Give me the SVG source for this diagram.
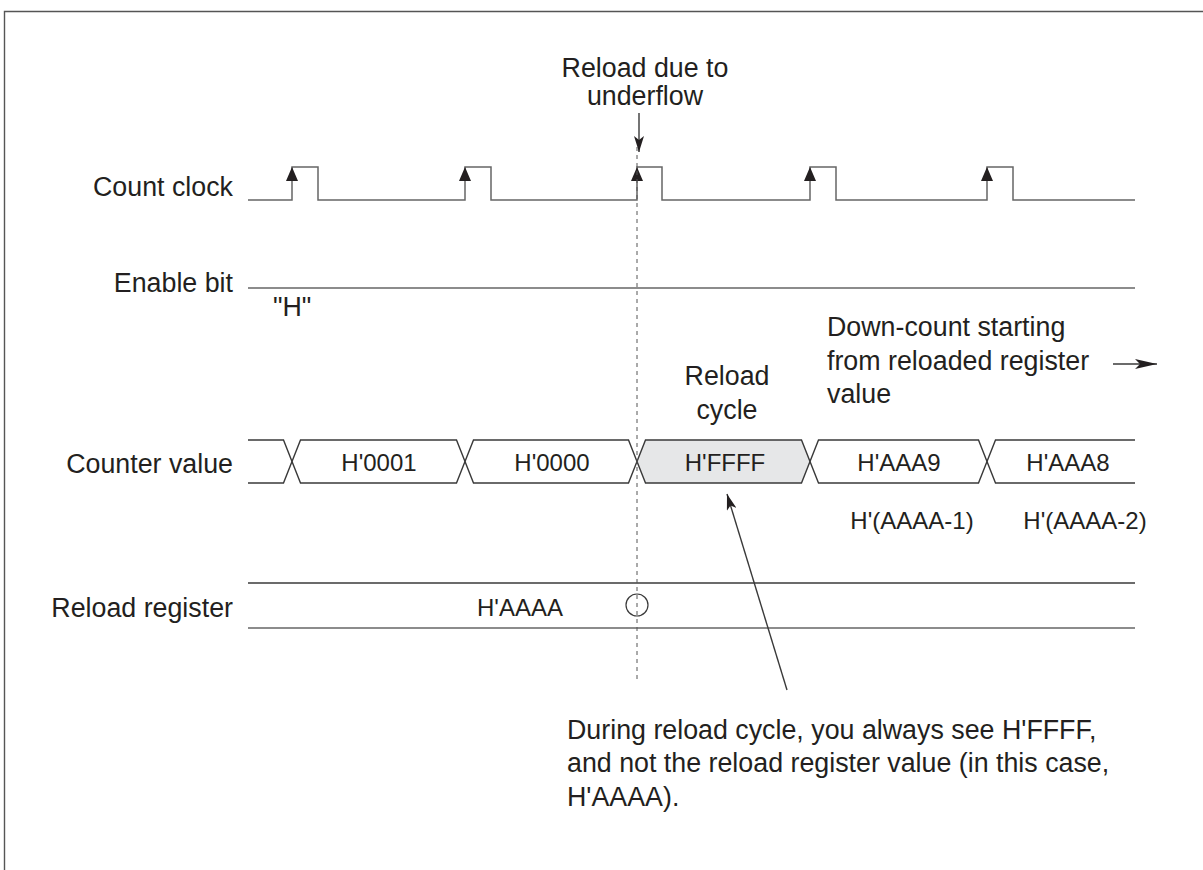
<svg xmlns="http://www.w3.org/2000/svg" width="1203" height="870" viewBox="0 0 1203 870">
<defs>
<style>
.t{font-family:"Liberation Sans",Arial,sans-serif;font-size:26.8px;fill:#231f20}
.v{font-size:24px}
.m{text-anchor:middle}
.e{text-anchor:end}
.ln{stroke:#3a3a3a;stroke-width:1.4;fill:none}
.gl{stroke:#666;stroke-width:1.5;fill:none}
</style>
<marker id="ah2" viewBox="0 0 16 10" refX="16" refY="5" markerWidth="16" markerHeight="10" markerUnits="userSpaceOnUse" orient="auto"><path d="M0,0 L16,5 L0,10 L4,5 Z" fill="#231f20"/></marker>
<marker id="ah3" viewBox="0 0 22 10" refX="22" refY="5" markerWidth="22" markerHeight="10" markerUnits="userSpaceOnUse" orient="auto"><path d="M0,0 L22,5 L0,10 L5,5 Z" fill="#231f20"/></marker>
</defs>
<rect width="1203" height="870" fill="#fff"/>
<path d="M4.5,870 V11.5 H1203" stroke="#555" stroke-width="1.4" fill="none"/>

<g id="labels">
<text class="t e" x="233" y="196">Count clock</text>
<text class="t e" x="233" y="292">Enable bit</text>
<text class="t e" x="233" y="473">Counter value</text>
<text class="t e" x="233" y="617">Reload register</text>
</g>

<g id="count-clock">
<path class="gl" d="M248,200 H292 V167 H318 V200 H465 V167 H491 V200 H637 V167 H662 V200 H810 V167 H836 V200 H987 V167 H1013 V200 H1135"/>
<path d="M292,167 L298,181 L286,181 Z M465,167 L471,181 L459,181 Z M637,167 L643,181 L631,181 Z M810,167 L816,181 L804,181 Z M987,167 L993,181 L981,181 Z" fill="#231f20"/>
</g>

<g id="enable-bit">
<line class="gl" x1="248" y1="288" x2="1135" y2="288"/>
<text class="t" x="273" y="316">"H"</text>
</g>

<g id="counter-value">
<polygon points="637,461.5 645.5,440 801.5,440 810,461.5 801.5,483 645.5,483" fill="#e6e7e8"/>
<path class="ln" d="M248,440 H283.5 L300.5,483 H456.5 L473.5,440 H628.5 L645.5,483 H801.5 L818.5,440 H978.5 L995.5,483 H1135"/>
<path class="ln" d="M248,483 H283.5 L300.5,440 H456.5 L473.5,483 H628.5 L645.5,440 H801.5 L818.5,483 H978.5 L995.5,440 H1135"/>
<text class="t v m" x="379" y="471">H'0001</text>
<text class="t v m" x="552" y="471">H'0000</text>
<text class="t v m" x="725" y="471">H'FFFF</text>
<text class="t v m" x="899" y="471">H'AAA9</text>
<text class="t v m" x="1068" y="471">H'AAA8</text>
<text class="t v m" x="912" y="529">H'(AAAA-1)</text>
<text class="t v m" x="1085" y="529">H'(AAAA-2)</text>
</g>

<g id="reload-register">
<line class="ln" x1="248" y1="583" x2="1135" y2="583"/>
<line class="gl" x1="248" y1="628" x2="1135" y2="628"/>
<text class="t v m" x="520" y="616">H'AAAA</text>
<circle cx="637" cy="605" r="11" fill="#fff" stroke="#3a3a3a" stroke-width="1.2"/>
</g>

<g id="reload-cycle-label">
<text class="t m" x="727" y="385">Reload</text>
<text class="t m" x="727" y="419">cycle</text>
</g>

<g id="downcount-label">
<text class="t" x="827" y="336">Down-count starting</text>
<text class="t" x="827" y="370">from reloaded register</text>
<text class="t" x="827" y="403">value</text>
</g>

<g id="underflow-label">
<text class="t m" x="645" y="77">Reload due to</text>
<text class="t m" x="645" y="105">underflow</text>
</g>

<g id="note">
<text class="t" x="567" y="739">During reload cycle, you always see H'FFFF,</text>
<text class="t" x="567" y="772">and not the reload register value (in this case,</text>
<text class="t" x="567" y="806">H'AAAA).</text>
</g>

<g id="connectors">
<line x1="637" y1="147" x2="637" y2="680" stroke="#555" stroke-width="1" stroke-dasharray="4,4"/>
<line class="ln" x1="639" y1="113" x2="639" y2="152" marker-end="url(#ah2)"/>
<line class="ln" x1="787" y1="690" x2="727" y2="494" marker-end="url(#ah2)"/>
<line class="ln" x1="1113" y1="364" x2="1157" y2="364" marker-end="url(#ah3)"/>
</g>
</svg>
